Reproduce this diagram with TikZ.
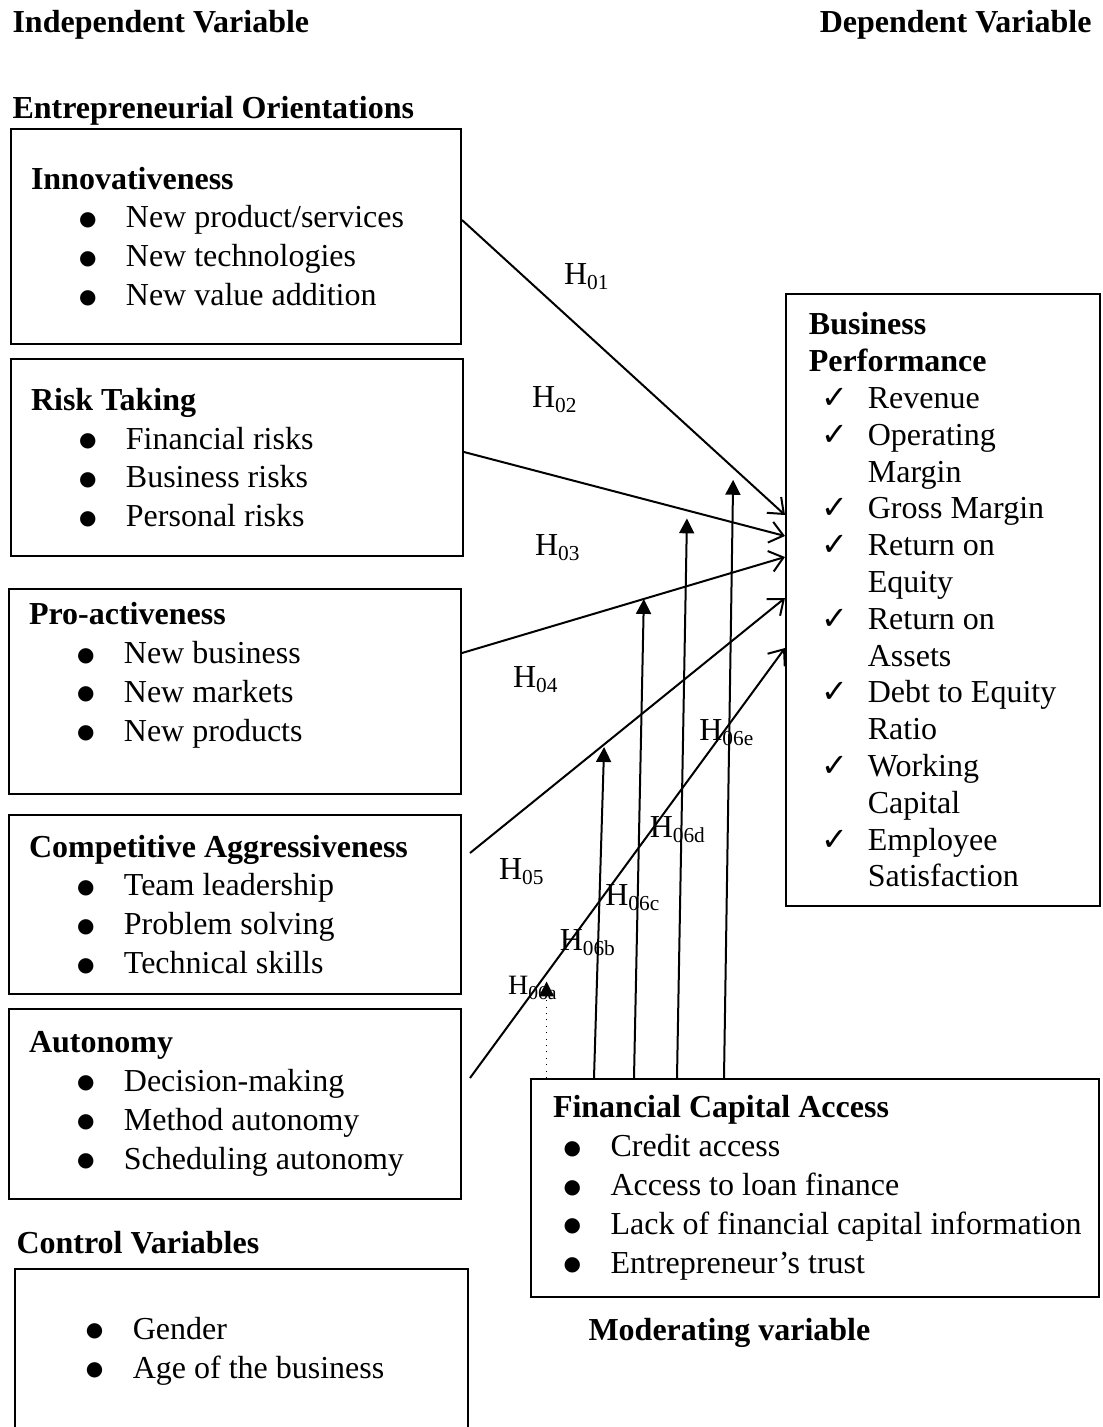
\documentclass[tikz,border=0pt]{standalone}
\usepackage{fontspec}
\setmainfont{Liberation Serif}
\newfontfamily\symfont{DejaVu Sans}
\usetikzlibrary{arrows.meta,calc}

% list entries
\newcommand{\bul}[2][18pt]{\hspace*{#1}\makebox[17.6pt][l]{\raisebox{1pt}{\symfont\fontsize{7.5}{8}\selectfont ●}}\mbox{#2}}
\newcommand{\chk}[1]{\hspace*{4.8pt}\makebox[17.3pt][l]{{\symfont\fontsize{12}{12}\selectfont ✓}}\mbox{#1}}
\newcommand{\cont}[1]{\hspace*{22.1pt}\mbox{#1}}
\newcommand{\hyp}[1]{H\textsubscript{#1}}

\tikzset{
  factor/.style={draw, line width=0.75pt, anchor=north west, align=left,
    inner xsep=7.5pt, inner ysep=0pt, font=\fontsize{12}{14.6}\selectfont,
    execute at begin node={\spaceskip=0pt\xspaceskip=0pt}},
  heading/.style={anchor=base west, inner sep=0pt, font=\fontsize{12}{14.6}\selectfont\bfseries},
  hyplabel/.style={inner sep=0pt, font=\fontsize{12}{14.6}\selectfont},
  direct/.style={-{Straight Barb[length=5pt,width=8pt]}, line width=0.75pt},
  moder/.style={-{Triangle[length=5.6pt,width=5.6pt]}, line width=0.75pt}
}

\begin{document}
\begin{tikzpicture}[x=0.375pt, y=-0.375pt]
  \useasboundingbox (0,0) rectangle (1103,1427);

  % headings
  \node[heading] (indep) at (12,32) {Independent Variable};
  \node[heading, anchor=base east] (dep) at (1092,32) {Dependent Variable};
  \node[heading] (eo) at (12,118) {Entrepreneurial Orientations};
  \node[heading] (ctrl) at (16,1253) {Control Variables};
  \node[heading] (mod) at (588,1340) {Moderating variable};

  % independent variables
  \node[factor, text width=153.75pt, minimum height=80.6pt] (innov) at (10,128)
    {\textbf{Innovativeness}\\ \bul{New product/services}\\ \bul{New technologies}\\ \bul{New value addition}};
  \node[factor, text width=154.5pt, minimum height=73.9pt] (risk) at (10,358)
    {\textbf{Risk Taking}\\ \bul{Financial risks}\\ \bul{Business risks}\\ \bul{Personal risks}};
  \node[factor, text width=154.5pt, minimum height=76.9pt] (proact) at (8,588)
    {\textbf{Pro-activeness}\\ \bul{New business}\\ \bul{New markets}\\ \bul{New products}\\ \mbox{}};
  \node[factor, text width=154.5pt, minimum height=67.1pt] (compet) at (8,814)
    {\textbf{Competitive Aggressiveness}\\ \bul{Team leadership}\\ \bul{Problem solving}\\ \bul{Technical skills}};
  \node[factor, text width=154.5pt, minimum height=71.25pt] (auton) at (8,1008)
    {\textbf{Autonomy}\\ \bul{Decision-making}\\ \bul{Method autonomy}\\ \bul{Scheduling autonomy}};
  \node[factor, text width=154.9pt, minimum height=61.5pt] (control) at (14,1268)
    {\bul[19.1pt]{Gender}\\ \bul[19.1pt]{Age of the business}};

  % dependent variable
  \node[factor, inner xsep=8.6pt, text width=100.5pt, minimum height=229.5pt,
    font=\fontsize{12}{13.8}\selectfont] (perf) at (785,293)
    {\textbf{Business}\\ \textbf{Performance}\\ \chk{Revenue}\\ \chk{Operating}\\ \cont{Margin}\\
     \chk{Gross Margin}\\ \chk{Return on}\\ \cont{Equity}\\ \chk{Return on}\\ \cont{Assets}\\
     \chk{Debt to Equity}\\ \cont{Ratio}\\ \chk{Working}\\ \cont{Capital}\\ \chk{Employee}\\ \cont{Satisfaction}};

  % moderating variable
  \node[factor, inner xsep=8.25pt, text width=196.5pt, minimum height=81.75pt] (fca) at (530,1078)
    {\textbf{Financial Capital Access}\\ \bul[4pt]{Credit access}\\ \bul[4pt]{Access to loan finance}\\
     \bul[4pt]{Lack of financial capital information}\\ \bul[4pt]{Entrepreneur’s trust}};

  % direct effects
  \draw[direct] (innov.east |- 0,220) -- coordinate[pos=0.84] (m1) (perf.west |- 0,515);
  \draw[direct] (risk.east |- 0,452) -- coordinate[pos=0.695] (m2) (perf.west |- 0,536);
  \draw[direct] (proact.east |- 0,653) -- coordinate[pos=0.563] (m3) (perf.west |- 0,557);
  \draw[direct] ($(compet.east |- 0,853)+(8,0)$) -- coordinate[pos=0.426] (m4) (perf.west |- 0,598);
  \draw[direct] ($(auton.east |- 0,1078)+(8,0)$) -- coordinate[pos=0.243] (m5) (perf.west |- 0,648);

  % moderating effects
  \draw[moder, line width=0.4pt, dotted, shorten >=3pt] (fca.north -| m5) -- (m5);
  \draw[moder, shorten >=1pt] (fca.north -| 594,0) -- (m4);
  \draw[moder] (fca.north -| 634,0) -- (m3);
  \draw[moder, shorten >=3pt] (fca.north -| 677,0) -- (m2);
  \draw[moder, shorten >=4.5pt] (fca.north -| 724,0) -- (m1);

  % hypothesis labels
  \node[hyplabel] (h1) at (587,277) {\hyp{01}};
  \node[hyplabel] (h2) at (555,400) {\hyp{02}};
  \node[hyplabel] (h3) at (558,548) {\hyp{03}};
  \node[hyplabel] (h4) at (536,680) {\hyp{04}};
  \node[hyplabel] (h5) at (522,872) {\hyp{05}};
  \node[hyplabel] (h6e) at (727,733) {\hyp{06e}};
  \node[hyplabel] (h6d) at (678,830) {\hyp{06d}};
  \node[hyplabel] (h6c) at (633,898) {\hyp{06c}};
  \node[hyplabel] (h6b) at (588,943) {\hyp{06b}};
  \node[hyplabel, font=\fontsize{10.5}{12}\selectfont] (h6a) at (533,988) {\hyp{06a}};
\end{tikzpicture}
\end{document}
